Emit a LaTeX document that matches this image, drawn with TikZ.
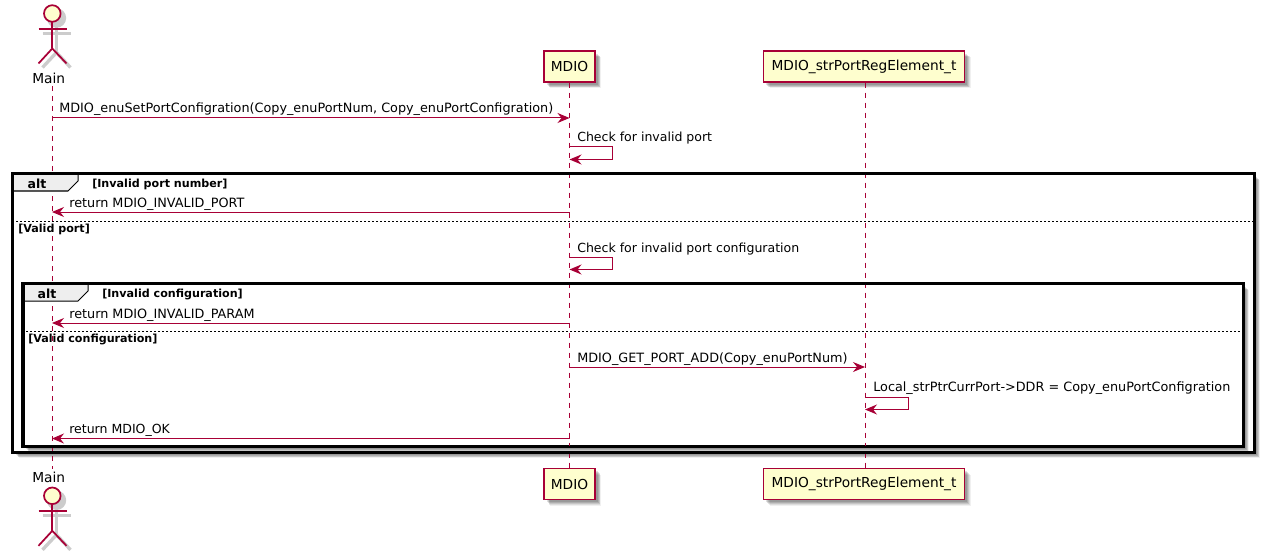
\documentclass[tikz,border=0pt]{standalone}
\usepackage{fontspec}
\setmainfont{DejaVu Sans}
\usetikzlibrary{shapes,arrows.meta,positioning,calc,shadows}
\definecolor{umlline}{HTML}{A80036}
\definecolor{umlfill}{HTML}{FEFECE}
\definecolor{tabfill}{HTML}{EEEEEE}
\tikzset{
    softshadow/.style={
        general shadow={shadow xshift=4.6pt, shadow yshift=-4.6pt, fill=black, opacity=0.06},
        general shadow={shadow xshift=4pt, shadow yshift=-4pt, fill=black, opacity=0.08},
        general shadow={shadow xshift=3.4pt, shadow yshift=-3.4pt, fill=black, opacity=0.10},
        general shadow={shadow xshift=2.8pt, shadow yshift=-2.8pt, fill=black, opacity=0.12},
        general shadow={shadow xshift=2.2pt, shadow yshift=-2.2pt, fill=black, opacity=0.12}},
    partbox/.style={rectangle, draw=umlline, fill=umlfill, line width=1pt, minimum height=23.25pt, inner sep=0pt, font=\fontsize{10.3pt}{12pt}\selectfont, softshadow},
    actorlabel/.style={font=\fontsize{10.3pt}{12pt}\selectfont, inner sep=0pt},
    lifeline/.style={draw=umlline, line width=0.75pt, dash pattern=on 3.75pt off 3.75pt},
    msg/.style={draw=umlline, line width=0.75pt, -{Stealth[length=9pt, width=7.5pt, inset=3pt]}},
    msgtext/.style={anchor=base west, inner sep=0pt, font=\fontsize{9.4pt}{11pt}\selectfont},
    msgwide/.style={msgtext, font=\fontsize{9.6pt}{11pt}\selectfont},
    altframe/.style={rectangle, draw=black, line width=1.5pt, fill=white, inner sep=0pt, softshadow},
    altborder/.style={draw=black, line width=1.5pt},
    alttab/.style={draw=black, line width=0.75pt, fill=tabfill},
    altsplit/.style={draw=black, line width=0.75pt, dash pattern=on 1.5pt off 1.5pt},
    alttext/.style={anchor=base west, inner sep=0pt, font=\fontsize{8.35pt}{10pt}\selectfont\bfseries},
    altname/.style={inner sep=0pt, font=\fontsize{9.4pt}{11pt}\selectfont\bfseries},
    actorbody/.style={draw=umlline, line width=1.3pt, fill=umlfill},
    actorshadow/.style={draw=black!20, line width=2.5pt, fill=black!20}
}
\begin{document}
\begin{tikzpicture}[x=0.75pt, y=-0.75pt]
    \useasboundingbox (0,0) rectangle (1263,556);

    % frames
    \node[altframe, minimum width=930.75pt, minimum height=208.5pt] (outer) at (633.5,313) {};
    \node[altframe, minimum width=915pt, minimum height=121.5pt] (inner) at (633,365) {};

    % participants
    \node[partbox, minimum width=38.25pt] (mdio) at (569.5,66.5) {MDIO};
    \node[partbox, minimum width=150.75pt] (reg) at (864,66.5) {MDIO\_strPortRegElement\_t};
    \node[partbox, minimum width=38.25pt] (mdiob) at (569.5,484) {MDIO};
    \node[partbox, minimum width=150.75pt] (regb) at (864,484) {MDIO\_strPortRegElement\_t};
    \node[actorlabel] (main) at (48.7,78) {Main};
    \node[actorlabel] (mainb) at (48.7,477) {Main};

    % actors, top one then bottom one
    \foreach \ay in {13.5,495.8} {
        \draw[actorshadow] (56.5,\ay+4.5) circle (8);
        \draw[actorshadow] (56.5,\ay+8) -- (56.5,\ay+39);
        \draw[actorshadow] (42.5,\ay+20) -- (70.5,\ay+20);
        \draw[actorshadow, fill=none] (42.5,\ay+54) -- (56.5,\ay+39) -- (70.5,\ay+54);
        \draw[actorbody] (52.3,\ay) circle (8.3);
        \draw[actorbody] (52.3,\ay+8.3) -- (52.3,\ay+35);
        \draw[actorbody] (38.5,\ay+15.5) -- (66.5,\ay+15.5);
        \draw[actorbody, fill=none] (38.5,\ay+50) -- (52.3,\ay+35) -- (66.5,\ay+50);
    }

    % lifelines
    \coordinate (maintop) at (52,86);
    \coordinate (mainbot) at (52,469);
    \draw[lifeline] (maintop) -- (mainbot);
    \draw[lifeline] (mdio) -- (mdiob);
    \draw[lifeline] ($(reg.south)+(1,0)$) -- ($(regb.north)+(1,0)$);

    % frame borders go over the lifelines
    \draw[altborder] (outer.north west) rectangle (outer.south east);
    \draw[altborder] (inner.north west) rectangle (inner.south east);
    \draw[alttab] (13,174) -- (78,174) -- (78,181) -- (68,191) -- (13,191) -- cycle;
    \draw[alttab] (23.5,284) -- (88,284) -- (88,291) -- (78,301) -- (23.5,301) -- cycle;
    \draw[altborder] (13,174) -- (1254,174);
    \draw[altborder] (13,174) -- (13,452);
    \draw[altborder] (23.5,284) -- (1243,284);
    \draw[altborder] (23.5,284) -- (23.5,446);
    \node[altname] (alta) at (37,184) {alt};
    \node[altname] (altb) at (47,294) {alt};
    \node[alttext] (conda) at (92,187) {[Invalid port number]};
    \node[alttext] (condb) at (102,297) {[Invalid configuration]};
    \node[alttext] (condc) at (18,232) {[Valid port]};
    \node[alttext] (condd) at (28,342) {[Valid configuration]};
    \draw[altsplit] (outer.west |- 0,221) -- (outer.east |- 0,221);
    \draw[altsplit] (inner.west |- 0,331) -- (inner.east |- 0,331);

    % anchor points on the lifelines
    \coordinate (m1a) at (52,118);
    \coordinate (m1b) at (569.5,118);
    \coordinate (s1a) at (569.5,146.5);
    \coordinate (s1b) at (569.5,159.5);
    \coordinate (m2a) at (569.5,212);
    \coordinate (m2b) at (52,212);
    \coordinate (s2a) at (569.5,257);
    \coordinate (s2b) at (569.5,269.5);
    \coordinate (m3a) at (569.5,323);
    \coordinate (m3b) at (52,323);
    \coordinate (m4a) at (569.5,367);
    \coordinate (m4b) at (865,367);
    \coordinate (s3a) at (865,397);
    \coordinate (s3b) at (865,409.5);
    \coordinate (m5a) at (569.5,438.5);
    \coordinate (m5b) at (52,438.5);

    % messages
    \draw[msg] (m1a) -- (m1b);
    \draw[msg] (s1a) -- ++(43,0) |- (s1b);
    \draw[msg] (m2a) -- (m2b);
    \draw[msg] (s2a) -- ++(43,0) |- (s2b);
    \draw[msg] (m3a) -- (m3b);
    \draw[msg] (m4a) -- (m4b);
    \draw[msg] (s3a) -- ++(43,0) |- (s3b);
    \draw[msg] (m5a) -- (m5b);

    \node[msgwide] (t1) at (59,112.5) {MDIO\_enuSetPortConfigration(Copy\_enuPortNum, Copy\_enuPortConfigration)};
    \node[msgtext] (t2) at (577,142) {Check for invalid port};
    \node[msgwide] (t3) at (69,208) {return MDIO\_INVALID\_PORT};
    \node[msgtext] (t4) at (577,252) {Check for invalid port configuration};
    \node[msgwide] (t5) at (69,318) {return MDIO\_INVALID\_PARAM};
    \node[msgwide] (t6) at (577,362) {MDIO\_GET\_PORT\_ADD(Copy\_enuPortNum)};
    \node[msgwide] (t7) at (873,391) {Local\_strPtrCurrPort->DDR = Copy\_enuPortConfigration};
    \node[msgtext] (t8) at (69,433) {return MDIO\_OK};
\end{tikzpicture}
\end{document}
